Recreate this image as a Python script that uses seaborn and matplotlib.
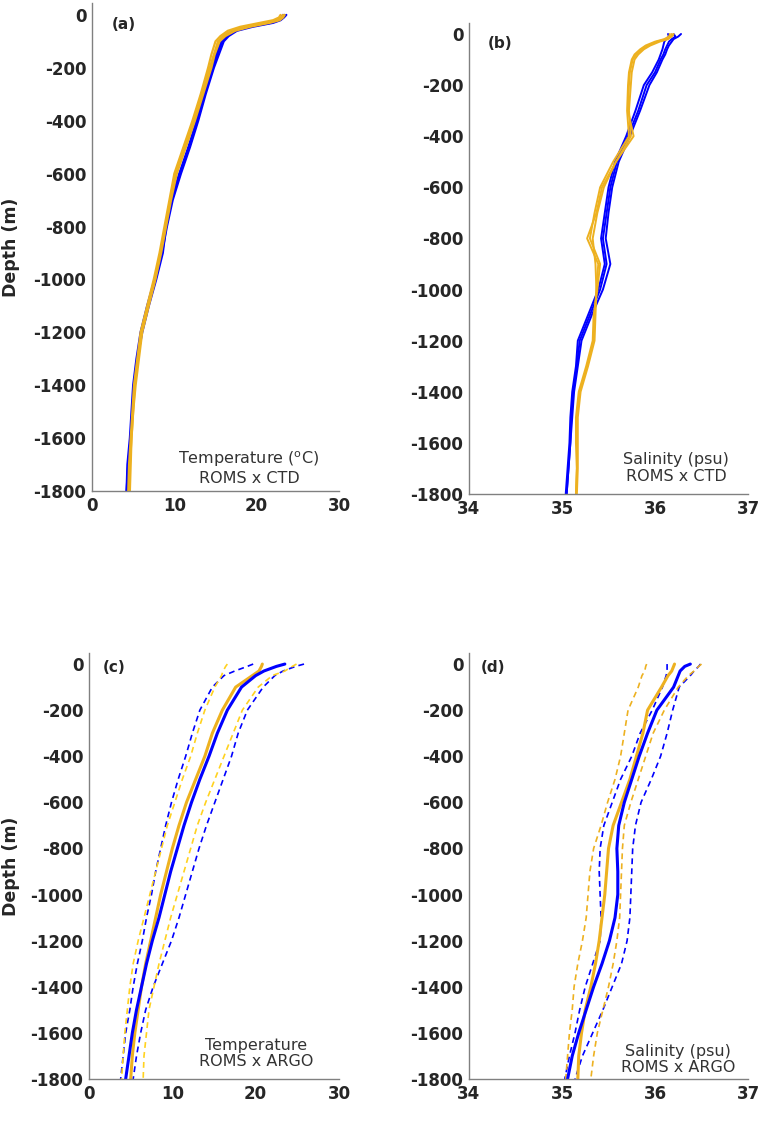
import numpy as np
import pandas as pd
import matplotlib
matplotlib.use("Agg")
import matplotlib.pyplot as plt
import seaborn as sns

# depth levels (m)
depth_ctd = [0, -10, -20, -30, -45, -60, -80, -100, -150, -200, -300, -400, -500,
             -600, -700, -800, -900, -1000, -1100, -1200, -1300, -1400, -1500,
             -1600, -1700, -1800]
depth_argo = [0, -10, -30, -50, -100, -200, -300, -400, -500, -600, -700, -800,
              -900, -1000, -1100, -1200, -1300, -1400, -1500, -1600, -1700, -1800]

# (a) temperature, CTD profiles (blue) and ROMS profiles (orange)
temp_ctd_1 = [23.6, 23.3, 22.9, 22.0, 19.5, 17.6, 16.6, 16.0, 15.4, 14.8, 13.8, 12.9, 11.9,
              10.8, 9.8, 9.1, 8.5, 7.7, 6.8, 6.0, 5.5, 5.1, 4.9, 4.7, 4.4, 4.2]
temp_ctd_2 = [23.2, 23.0, 22.5, 21.3, 18.8, 17.2, 16.3, 15.7, 15.1, 14.6, 13.6, 12.7, 11.7,
              10.6, 9.6, 9.0, 8.4, 7.6, 6.7, 5.9, 5.4, 5.0, 4.8, 4.6, 4.3, 4.2]
temp_ctd_3 = [23.4, 23.1, 22.7, 21.7, 19.1, 17.4, 16.4, 15.8, 15.2, 14.7, 13.7, 12.8, 11.8,
              10.7, 9.7, 9.0, 8.6, 7.8, 6.9, 6.1, 5.5, 5.1, 4.9, 4.7, 4.4, 4.3]
temp_roms_1 = [23.2, 23.0, 22.5, 21.0, 18.5, 16.9, 15.9, 15.3, 14.8, 14.3, 13.3, 12.3, 11.2,
               10.1, 9.5, 8.9, 8.3, 7.65, 6.8, 6.0, 5.6, 5.2, 5.0, 4.8, 4.6, 4.5]
temp_roms_2 = [23.4, 23.2, 22.8, 21.6, 19.2, 17.4, 16.2, 15.5, 14.9, 14.5, 13.5, 12.5, 11.4,
               10.3, 9.6, 9.0, 8.4, 7.7, 6.9, 6.1, 5.7, 5.3, 5.0, 4.8, 4.7, 4.6]
temp_roms_3 = [22.9, 22.7, 22.0, 20.4, 18.0, 16.5, 15.6, 15.0, 14.5, 14.1, 13.2, 12.2, 11.1,
               10.0, 9.4, 8.8, 8.2, 7.5, 6.7, 5.9, 5.5, 5.1, 4.9, 4.7, 4.5, 4.4]

# (b) salinity, CTD profiles (blue) and ROMS profiles (orange)
salt_ctd_1 = [36.20, 36.22, 36.18, 36.15, 36.13, 36.11, 36.09, 36.06, 36.00, 35.91, 35.82, 35.71, 35.59,
              35.52, 35.48, 35.44, 35.48, 35.41, 35.30, 35.19, 35.16, 35.12, 35.10, 35.09, 35.07, 35.05]
salt_ctd_2 = [36.28, 36.25, 36.20, 36.18, 36.15, 36.13, 36.11, 36.08, 36.02, 35.94, 35.84, 35.73, 35.61,
              35.54, 35.50, 35.47, 35.52, 35.44, 35.32, 35.21, 35.17, 35.13, 35.11, 35.09, 35.07, 35.05]
salt_ctd_3 = [36.14, 36.15, 36.12, 36.10, 36.09, 36.08, 36.06, 36.04, 35.97, 35.88, 35.79, 35.69, 35.57,
              35.50, 35.46, 35.42, 35.46, 35.39, 35.28, 35.17, 35.15, 35.11, 35.09, 35.08, 35.06, 35.04]
salt_roms_1 = [36.18, 36.17, 36.12, 36.02, 35.93, 35.86, 35.80, 35.76, 35.73, 35.72, 35.71, 35.77, 35.58,
               35.43, 35.37, 35.27, 35.39, 35.37, 35.35, 35.34, 35.27, 35.19, 35.16, 35.16, 35.16, 35.15]
salt_roms_2 = [36.20, 36.18, 36.14, 36.05, 35.95, 35.88, 35.82, 35.78, 35.75, 35.74, 35.72, 35.74, 35.58,
               35.45, 35.38, 35.33, 35.36, 35.37, 35.36, 35.35, 35.28, 35.20, 35.17, 35.17, 35.17, 35.16]
salt_roms_3 = [36.16, 36.15, 36.10, 36.00, 35.90, 35.84, 35.78, 35.75, 35.72, 35.71, 35.70, 35.72, 35.55,
               35.41, 35.35, 35.30, 35.41, 35.38, 35.34, 35.33, 35.26, 35.18, 35.15, 35.15, 35.16, 35.15]

# (c) temperature, ARGO mean and spread (blue), ROMS mean and spread (orange)
temp_argo_mean = [23.5, 22.5, 21.0, 20.0, 18.3, 16.6, 15.4, 14.4, 13.3, 12.3, 11.4, 10.6,
                  9.8, 9.1, 8.4, 7.6, 6.9, 6.3, 5.7, 5.2, 4.8, 4.4]
temp_argo_lo = [19.7, 19.0, 17.5, 16.2, 14.8, 13.3, 12.4, 11.6, 10.7, 9.9, 9.2, 8.6,
                8.0, 7.5, 6.9, 6.4, 5.8, 5.3, 4.9, 4.4, 4.1, 3.8]
temp_argo_hi = [25.8, 24.8, 23.3, 22.3, 20.9, 19.0, 17.9, 17.1, 16.1, 15.1, 14.1, 13.2,
                12.4, 11.6, 10.8, 9.9, 8.8, 7.7, 6.8, 6.2, 5.7, 5.3]
temp_roms_mean = [20.8, 20.7, 20.4, 19.6, 17.6, 16.0, 14.8, 13.9, 12.8, 11.7, 10.8, 10.0,
                  9.3, 8.6, 8.0, 7.4, 6.8, 6.3, 5.9, 5.5, 5.2, 5.0]
temp_roms_lo = [16.6, 16.4, 16.1, 15.9, 15.1, 13.9, 13.0, 12.2, 11.2, 10.3, 9.4, 8.7,
                8.0, 7.3, 6.6, 5.9, 5.3, 4.9, 4.6, 4.3, 4.1, 3.9]
temp_roms_hi = [24.9, 24.4, 23.5, 22.0, 20.3, 18.4, 17.3, 16.2, 15.1, 14.0, 13.0, 12.2,
                11.4, 10.6, 9.8, 9.1, 8.4, 7.8, 7.2, 6.9, 6.6, 6.5]

# (d) salinity, ARGO mean and spread (blue), ROMS mean and spread (orange)
salt_argo_mean = [36.38, 36.32, 36.27, 36.25, 36.20, 36.02, 35.92, 35.83, 35.75, 35.67, 35.61, 35.59,
                  35.60, 35.60, 35.57, 35.51, 35.43, 35.34, 35.26, 35.18, 35.11, 35.06]
salt_argo_lo = [36.13, 36.13, 36.13, 36.12, 36.08, 35.97, 35.84, 35.75, 35.63, 35.54, 35.45, 35.41,
                35.40, 35.41, 35.42, 35.41, 35.33, 35.25, 35.19, 35.14, 35.08, 35.03]
salt_argo_hi = [36.49, 36.47, 36.42, 36.38, 36.26, 36.19, 36.13, 36.06, 35.96, 35.85, 35.79, 35.76,
                35.75, 35.74, 35.73, 35.70, 35.64, 35.54, 35.44, 35.33, 35.22, 35.14]
salt_roms_mean = [36.21, 36.20, 36.18, 36.14, 36.07, 35.92, 35.87, 35.80, 35.73, 35.64, 35.55, 35.50,
                  35.48, 35.46, 35.43, 35.40, 35.36, 35.31, 35.25, 35.21, 35.18, 35.17]
salt_roms_lo = [35.91, 35.90, 35.89, 35.86, 35.82, 35.71, 35.67, 35.63, 35.57, 35.49, 35.42, 35.34,
                35.30, 35.28, 35.26, 35.22, 35.17, 35.13, 35.11, 35.08, 35.06, 35.04]
salt_roms_hi = [36.50, 36.47, 36.42, 36.36, 36.25, 36.10, 35.98, 35.90, 35.82, 35.74, 35.67, 35.65,
                35.64, 35.63, 35.62, 35.59, 35.55, 35.50, 35.44, 35.38, 35.34, 35.31]

BLUE = "#0000FF"
ORANGE = "#EDB120"
GOLD = "#FFD21F"
TXT = "#262626"
SPINE = "#808080"


def long_table(depth, series):
    rows = []
    for name, vals in series.items():
        for d, v in zip(depth, vals):
            rows.append((name, d, v))
    return pd.DataFrame(rows, columns=["line", "depth", "value"])


def style_axis(ax, xlim, xticks, ylim_top):
    ax.set_xlim(*xlim)
    ax.set_ylim(-1800, ylim_top)
    ax.set_xticks(xticks)
    ax.set_yticks(np.arange(-1800, 1, 200))
    ax.set_xlabel("")
    ax.set_ylabel("")
    for s in ["top", "right"]:
        ax.spines[s].set_visible(False)
    for s in ["left", "bottom"]:
        ax.spines[s].set_color(SPINE)
        ax.spines[s].set_linewidth(1.0)
    ax.tick_params(direction="in", length=3, width=0.8, color=SPINE,
                   labelsize=12, labelcolor=TXT, pad=4)
    for lab in ax.get_xticklabels() + ax.get_yticklabels():
        lab.set_fontweight("bold")


sns.set_style("white")
plt.rcParams["font.family"] = ["DejaVu Sans"]
plt.rcParams["axes.unicode_minus"] = False

fig = plt.figure(figsize=(7.62, 11.41), dpi=100)
H = 1141.0
W = 762.0


def px_axes(left, top, right, bottom):
    return fig.add_axes([left / W, 1 - bottom / H, (right - left) / W, (bottom - top) / H])


ax_a = px_axes(92, 3, 339, 491)
ax_b = px_axes(469, 23, 748, 494)
ax_c = px_axes(89, 653, 339, 1079)
ax_d = px_axes(469, 653, 748, 1079)

# (a)
df_a = long_table(depth_ctd, {
    "ctd1": temp_ctd_1, "ctd2": temp_ctd_2, "ctd3": temp_ctd_3,
    "roms1": temp_roms_1, "roms2": temp_roms_2, "roms3": temp_roms_3})
pal_ab = {"ctd1": BLUE, "ctd2": BLUE, "ctd3": BLUE,
          "roms1": ORANGE, "roms2": ORANGE, "roms3": ORANGE}
sns.lineplot(data=df_a, x="value", y="depth", hue="line", palette=pal_ab,
             estimator=None, sort=False, lw=1.6, legend=False, ax=ax_a)

# (b)
df_b = long_table(depth_ctd, {
    "ctd1": salt_ctd_1, "ctd2": salt_ctd_2, "ctd3": salt_ctd_3,
    "roms1": salt_roms_1, "roms2": salt_roms_2, "roms3": salt_roms_3})
sns.lineplot(data=df_b, x="value", y="depth", hue="line", palette=pal_ab,
             estimator=None, sort=False, lw=1.4, legend=False, ax=ax_b)

# (c) and (d)
sizes = {"obs_lo": 1.2, "obs_hi": 1.2, "mod_lo": 1.2, "mod_hi": 1.2,
         "mod_mean": 2.2, "obs_mean": 2.2}
dashes = {"obs_lo": (3.5, 2.5), "obs_hi": (3.5, 2.5), "mod_lo": (3.5, 2.5),
          "mod_hi": (3.5, 2.5), "mod_mean": "", "obs_mean": ""}

df_c = long_table(depth_argo, {
    "obs_lo": temp_argo_lo, "obs_hi": temp_argo_hi,
    "mod_lo": temp_roms_lo, "mod_hi": temp_roms_hi,
    "mod_mean": temp_roms_mean, "obs_mean": temp_argo_mean})
pal_c = {"obs_lo": BLUE, "obs_hi": BLUE, "obs_mean": BLUE,
         "mod_lo": GOLD, "mod_hi": GOLD, "mod_mean": ORANGE}
sns.lineplot(data=df_c, x="value", y="depth", hue="line", style="line", size="line",
             palette=pal_c, dashes=dashes, sizes=sizes, estimator=None, sort=False,
             legend=False, ax=ax_c)

df_d = long_table(depth_argo, {
    "obs_lo": salt_argo_lo, "obs_hi": salt_argo_hi,
    "mod_lo": salt_roms_lo, "mod_hi": salt_roms_hi,
    "mod_mean": salt_roms_mean, "obs_mean": salt_argo_mean})
pal_d = {"obs_lo": BLUE, "obs_hi": BLUE, "obs_mean": BLUE,
         "mod_lo": ORANGE, "mod_hi": ORANGE, "mod_mean": ORANGE}
sns.lineplot(data=df_d, x="value", y="depth", hue="line", style="line", size="line",
             palette=pal_d, dashes=dashes, sizes=sizes, estimator=None, sort=False,
             legend=False, ax=ax_d)

style_axis(ax_a, (0, 30), [0, 10, 20, 30], 45)
style_axis(ax_b, (34, 37), [34, 35, 36, 37], 43)
style_axis(ax_c, (0, 30), [0, 10, 20, 30], 48)
style_axis(ax_d, (34, 37), [34, 35, 36, 37], 48)

# ylabel anchor is the right edge of the rotated text
for ax, x in [(ax_a, -0.291), (ax_c, -0.276)]:
    ax.set_ylabel("Depth (m)", fontsize=12.5, fontweight="bold", color=TXT)
    ax.yaxis.set_label_coords(x, 0.5)

panel_labels = [(ax_a, "(a)", 0.13, 0.955), (ax_b, "(b)", 0.111, 0.957),
                (ax_c, "(c)", 0.10, 0.967), (ax_d, "(d)", 0.086, 0.965)]
for ax, lab, x, y in panel_labels:
    ax.text(x, y, lab, transform=ax.transAxes, ha="center", va="center",
            fontsize=11, fontweight="bold", color=TXT)

notes = [(ax_a, "Temperature ($^{\\mathrm{o}}$C)\nROMS x CTD", 0.636, 0.047),
         (ax_b, "Salinity (psu)\nROMS x CTD", 0.742, 0.055),
         (ax_c, "Temperature\nROMS x ARGO", 0.668, 0.06),
         (ax_d, "Salinity (psu)\nROMS x ARGO", 0.75, 0.046)]
for ax, txt, x, y in notes:
    ax.text(x, y, txt, transform=ax.transAxes, ha="center", va="center",
            fontsize=11.5, color="#333333", linespacing=1.15)

fig.savefig("out.png", dpi=100, facecolor="white")
